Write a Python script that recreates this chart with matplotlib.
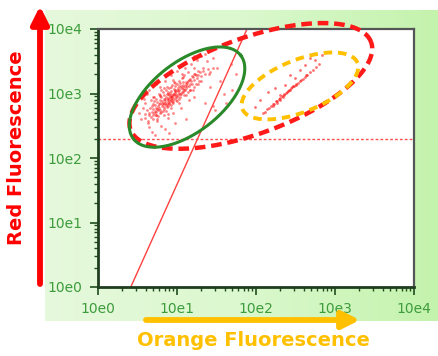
import numpy as np
import matplotlib
matplotlib.use('Agg')
import matplotlib.pyplot as plt
from matplotlib.ticker import FixedLocator, FixedFormatter, NullFormatter
from matplotlib.colors import LinearSegmentedColormap

plt.rcParams['font.family'] = ['DejaVu Sans']

# decade ticks
decades = [1, 10, 100, 1000, 10000]
tick_labels = ['10e0', '10e1', '10e2', '10e3', '10e4']

# events in the green gate (log10 of orange / red fluorescence)
green_log_orange = [
    0.92, 0.88, 0.95, 0.85, 1.00, 0.90, 0.97, 0.83, 1.02, 0.79,
    0.93, 0.87, 1.05, 0.76, 0.99, 0.91, 0.84, 1.08, 0.73, 0.96,
    0.89, 1.01, 0.81, 0.94, 1.06, 0.78, 0.86, 1.11, 0.70, 0.98,
    0.82, 1.03, 0.92, 0.75, 1.09, 0.88, 0.95, 0.80, 1.13, 0.68,
    1.00, 0.87, 0.93, 1.04, 0.77, 0.90, 0.85, 1.15, 0.72, 0.97,
    1.07, 0.83, 0.91, 0.99, 0.74, 1.12, 0.86, 0.95, 0.79, 1.02,
    0.66, 1.17, 0.89, 0.94, 0.81, 1.05, 0.71, 0.98, 0.84, 1.10,
    0.87, 0.93, 1.01, 0.76, 0.90, 1.14, 0.69, 0.96, 0.82, 1.08,
    1.20, 1.16, 0.78, 0.64, 1.24, 0.92, 1.03, 0.80, 0.67, 1.19,
    0.86, 0.97, 1.12, 0.74, 1.06, 0.89, 0.95, 0.83, 1.00, 0.71,
    1.22, 0.77, 1.09, 0.60, 1.27, 0.88, 1.04, 0.75, 0.94, 1.14,
    0.60, 0.63, 0.65, 0.67, 0.69, 0.70, 0.72, 0.73, 0.74, 0.76,
    0.77, 0.78, 0.80, 0.81, 0.82, 0.84, 0.85, 0.86, 0.88, 0.89,
    0.90, 0.91, 0.92, 0.94, 0.95, 0.96, 0.97, 0.99, 1.00, 1.01,
    1.03, 1.04, 1.05, 1.07, 1.08, 1.10, 1.11, 1.13, 1.15, 1.16,
    1.18, 1.19, 1.21, 1.23, 1.25, 1.27, 1.29, 1.31, 1.33, 1.36,
    1.39, 1.42, 1.45, 0.62, 0.68, 0.75, 0.83, 0.93, 1.02, 1.09,
    1.17, 1.24, 1.30, 0.71, 0.79, 0.87, 0.96, 1.06, 1.14, 1.21,
    0.55, 0.60, 0.52, 0.63, 0.58, 0.65, 0.70, 0.62, 0.75, 0.78,
    0.80, 0.85, 0.88, 0.92, 0.95, 1.00, 1.05, 1.10, 1.15, 1.18,
    1.22, 1.25, 1.28, 1.30, 1.33, 1.35, 1.38, 1.20, 1.26, 1.40,
    1.45, 1.50, 1.42, 1.55, 1.60, 1.62, 1.45, 1.48, 1.35, 1.70,
    0.68, 0.72, 0.85, 0.98, 1.12, 0.57, 0.64, 0.73, 1.02, 1.08,
    1.22, 1.40, 1.22, 0.90, 1.75, 1.68,
]
green_log_red = [
    2.95, 2.91, 3.00, 2.88, 3.05, 2.97, 2.93, 2.92, 3.01, 2.85,
    3.04, 2.84, 3.08, 2.81, 2.96, 2.89, 2.97, 3.10, 2.78, 3.07,
    2.99, 2.98, 2.80, 2.87, 3.03, 2.90, 2.95, 3.14, 2.76, 3.11,
    2.86, 3.12, 2.82, 2.87, 3.05, 3.03, 2.92, 2.94, 3.17, 2.72,
    3.15, 2.79, 2.98, 2.95, 2.83, 3.08, 2.91, 3.12, 2.82, 3.02,
    3.18, 2.76, 3.01, 2.90, 2.92, 3.08, 3.06, 2.85, 2.98, 3.20,
    2.77, 3.22, 2.93, 3.13, 2.89, 2.99, 2.70, 3.04, 2.83, 3.11,
    3.00, 2.90, 3.09, 2.74, 2.86, 3.19, 2.84, 2.97, 3.02, 3.02,
    3.25, 3.06, 2.70, 2.66, 3.28, 3.10, 2.92, 3.05, 2.90, 3.15,
    2.73, 3.16, 2.98, 2.66, 3.24, 2.80, 3.21, 3.08, 2.88, 2.95,
    3.10, 3.00, 3.28, 2.68, 3.35, 2.68, 3.16, 2.76, 2.94, 3.03,
    2.62, 2.58, 2.70, 2.63, 2.66, 2.60, 2.73, 2.67, 2.71, 2.65,
    2.77, 2.74, 2.71, 2.83, 2.73, 2.79, 2.85, 2.82, 2.87, 2.90,
    2.83, 2.94, 2.92, 2.96, 2.89, 2.99, 3.05, 3.00, 2.94, 3.04,
    3.06, 3.00, 3.11, 3.07, 3.13, 3.06, 3.18, 3.12, 3.21, 3.15,
    3.20, 3.27, 3.21, 3.30, 3.24, 3.28, 3.33, 3.27, 3.35, 3.31,
    3.38, 3.34, 3.40, 2.74, 2.80, 2.58, 2.66, 2.78, 2.86, 2.97,
    3.05, 3.14, 3.20, 2.88, 2.96, 3.10, 3.18, 3.31, 3.33, 3.40,
    2.60, 2.85, 2.70, 2.55, 2.92, 2.48, 2.95, 3.00, 2.60, 3.10,
    2.50, 3.20, 2.62, 3.28, 2.70, 3.35, 2.78, 3.40, 2.90, 3.45,
    3.30, 3.52, 3.20, 3.58, 3.40, 3.62, 3.50, 3.05, 3.15, 3.30,
    3.55, 3.40, 3.10, 3.20, 3.00, 2.85, 2.80, 2.75, 2.85, 3.05,
    2.40, 2.35, 2.45, 2.55, 2.60, 2.78, 3.05, 3.15, 3.42, 3.25,
    3.58, 3.68, 2.95, 2.38, 3.30, 3.45,
]

# events in the orange gate
orange_log_orange = [
    2.09, 2.12, 2.14, 2.17, 2.19, 2.21, 2.23, 2.25, 2.27, 2.29,
    2.31, 2.33, 2.35, 2.36, 2.38, 2.40, 2.42, 2.44, 2.46, 2.48,
    2.50, 2.53, 2.56, 2.59, 2.62, 2.65, 2.68, 2.72, 2.76, 2.80,
    2.22, 2.26, 2.30, 2.34, 2.39, 2.43, 2.47, 2.51, 2.57, 2.63,
    2.24, 2.37, 2.56, 2.68, 2.84, 1.99, 2.15, 2.49, 2.62, 2.43,
    2.30, 2.05, 2.75,
]
orange_log_red = [
    2.70, 2.72, 2.76, 2.78, 2.80, 2.83, 2.84, 2.88, 2.89, 2.92,
    2.93, 2.96, 2.97, 3.00, 3.01, 3.04, 3.05, 3.08, 3.10, 3.12,
    3.13, 3.17, 3.19, 3.23, 3.26, 3.29, 3.33, 3.37, 3.41, 3.46,
    2.81, 2.86, 2.90, 2.94, 3.02, 3.06, 3.11, 3.15, 3.21, 3.28,
    3.09, 3.13, 3.36, 3.55, 3.60, 2.79, 3.02, 3.24, 3.44, 3.29,
    2.98, 2.90, 3.52,
]

# diagonal gate line and horizontal threshold
diag_x = [2.6, 77]
diag_y = [1, 10000]
red_threshold = 195

# gates: centre (data), semi-axes (px), angle (deg)
big_gate = ((86, 1310), 128, 48, 20)
green_gate = ((13.4, 880), 68, 35, 38)
orange_gate = ((360, 1310), 62, 26, 22)

W, H = 438, 356
fig = plt.figure(figsize=(W / 100, H / 100), dpi=100)

# pale green gradient backdrop
bg = fig.add_axes([45 / W, 35 / H, 393 / W, 311 / H])
grad = np.linspace(0, 1, 256).reshape(1, -1)
cmap = LinearSegmentedColormap.from_list('bg', ['#e6f9dc', '#dbf8ce', '#c4f3ad'])
bg.imshow(grad, aspect='auto', cmap=cmap, extent=[0, 1, 0, 1])
bg.axis('off')

ax = fig.add_axes([98 / W, 69 / H, 316 / W, 258 / H])
ax.set_facecolor('white')
ax.set_xscale('log')
ax.set_yscale('log')
ax.set_xlim(1, 10000)
ax.set_ylim(1, 10000)

green_x = 10 ** np.array(green_log_orange)
green_y = 10 ** np.array(green_log_red)
orange_x = 10 ** np.array(orange_log_orange)
orange_y = 10 ** np.array(orange_log_red)

ax.scatter(green_x, green_y, s=4, marker='o', color='#ff1010', alpha=0.5, lw=0, zorder=2)
ax.scatter(orange_x, orange_y, s=4, marker='o', color='#ff1010', alpha=0.6, lw=0, zorder=2)

ax.plot(diag_x, diag_y, color='#ff4040', lw=1, zorder=2)
ax.axhline(red_threshold, color='#ff5050', lw=1, dashes=(2, 1.5), zorder=2)


def draw_gate(gate, **kw):
    (cx, cy), a, b, ang = gate
    px, py = ax.transData.transform((cx, cy))
    t = np.linspace(0, 2 * np.pi, 300)
    th = np.deg2rad(ang)
    ex = px + a * np.cos(t) * np.cos(th) - b * np.sin(t) * np.sin(th)
    ey = py + a * np.cos(t) * np.sin(th) + b * np.sin(t) * np.cos(th)
    pts = ax.transData.inverted().transform(np.column_stack([ex, ey]))
    ax.plot(pts[:, 0], pts[:, 1], clip_on=False, **kw)


draw_gate(big_gate, color='#ff1a1a', lw=3.2, dashes=(2.4, 1.3), zorder=3)
draw_gate(orange_gate, color='#ffc000', lw=2.8, dashes=(2.2, 1.5), zorder=4)
draw_gate(green_gate, color='#2a8a2a', lw=2.2, zorder=5)

# axes styling
ax.xaxis.set_major_locator(FixedLocator(decades))
ax.yaxis.set_major_locator(FixedLocator(decades))
ax.xaxis.set_major_formatter(FixedFormatter(tick_labels))
ax.yaxis.set_major_formatter(FixedFormatter(tick_labels))
ax.xaxis.set_minor_formatter(NullFormatter())
ax.yaxis.set_minor_formatter(NullFormatter())
ax.tick_params(which='major', direction='out', length=6, width=1.2,
               color='#1f4d1f', labelcolor='#3c9c3c', labelsize=10, pad=5)
ax.tick_params(which='minor', direction='out', length=3, width=1, color='#1f4d1f')
for side in ['left', 'bottom']:
    ax.spines[side].set_color('#1f3d1f')
    ax.spines[side].set_linewidth(2)
for side in ['top', 'right']:
    ax.spines[side].set_color('#555555')
    ax.spines[side].set_linewidth(1.6)

# axis arrows and titles
ax.annotate('', xy=(40, H - 6), xytext=(40, H - 284), xycoords='figure pixels',
            textcoords='figure pixels',
            arrowprops=dict(arrowstyle='-|>', lw=4.2, color='#ff0000', mutation_scale=26,
                            shrinkA=0, shrinkB=0))
ax.annotate('', xy=(360, H - 320), xytext=(146, H - 320), xycoords='figure pixels',
            textcoords='figure pixels',
            arrowprops=dict(arrowstyle='-|>', lw=4.2, color='#ffc000', mutation_scale=26,
                            shrinkA=0, shrinkB=0))
fig.text(17 / W, 1 - 148 / H, 'Red Fluorescence', rotation=90, color='#ff0000',
         fontsize=14, weight='bold', ha='center', va='center')
fig.text(253 / W, 1 - 341 / H, 'Orange Fluorescence', color='#ffc000',
         fontsize=14, weight='bold', ha='center', va='center')

fig.savefig('out.png', dpi=100, facecolor='white')
